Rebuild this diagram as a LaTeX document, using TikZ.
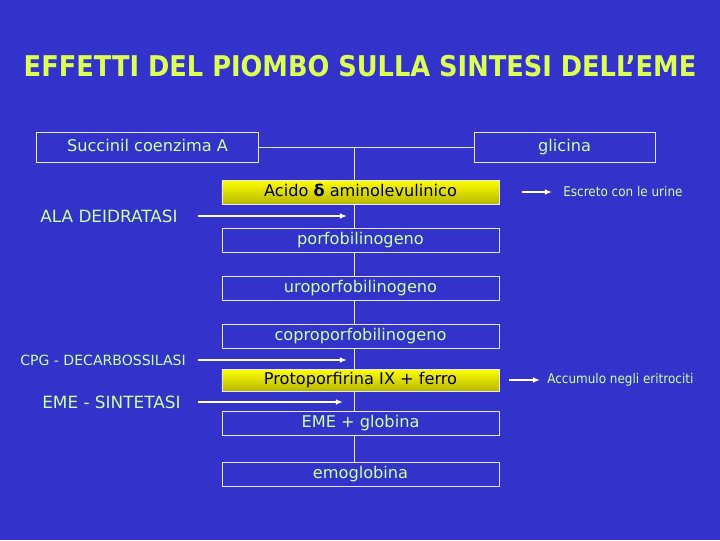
\documentclass[tikz,border=0pt]{standalone}
\usepackage{fontspec}
\setmainfont{DejaVu Sans}
\newfontfamily\titlefont{DejaVu Sans Condensed}
\usetikzlibrary{positioning}
\usetikzlibrary{calc}
\usetikzlibrary{arrows.meta}

\definecolor{slideblue}{HTML}{3333CC}
\definecolor{labelgreen}{HTML}{CCFF99}
\definecolor{titlegreen}{HTML}{DDFF55}
\definecolor{boxline}{HTML}{E6E6F0}
\definecolor{darknavy}{HTML}{000066}
\definecolor{arrowcream}{HTML}{FFFFDD}

\tikzset{
  stepbox/.style={draw=boxline, line width=0.5pt, fill=slideblue, text=labelgreen,
    minimum width=6.925cm, minimum height=0.6cm, inner sep=0pt,
    text height=1.55ex, text depth=0.45ex, font=\fontsize{11.5}{13}\selectfont},
  yellowbox/.style={stepbox, draw=boxline, top color=yellow, bottom color=yellow!72!black,
    text=darknavy},
  topbox/.style={stepbox, minimum height=0.75cm},
  enzyme/.style={text=labelgreen, anchor=west, inner sep=0pt, font=\fontsize{12}{14}\selectfont},
  note/.style={text=labelgreen, anchor=west, inner sep=0pt, font=\titlefont\fontsize{9.5}{11}\selectfont},
  trunk/.style={draw=boxline, line width=0.5pt},
  enzarrow/.style={draw=arrowcream, line width=1pt, -{Latex[length=5pt,width=4pt]}}
}

\begin{document}
\begin{tikzpicture}[x=0.025cm, y=-0.025cm]
  \fill[slideblue] (0,0) rectangle (720,540);
  \useasboundingbox (0,0) rectangle (720,540);

  % title
  \node[text=titlegreen, font=\titlefont\bfseries\fontsize{20.3}{24}\selectfont] (title) at (360,66)
    {EFFETTI DEL PIOMBO SULLA SINTESI DELL’EME};

  % substrates
  \node[topbox, minimum width=5.55cm] (succ) at (147.5,147.5) {Succinil coenzima A};
  \node[topbox, minimum width=4.525cm] (gli) at (564.5,147.5) {glicina};
  \coordinate (junc) at (354,147.5);

  % main chain
  \node[yellowbox] (ala) at (360.5,192) {Acido \textbf{δ} aminolevulinico};
  \node[stepbox] (pbg) at (360.5,240) {porfobilinogeno};
  \node[stepbox] (uro) at (360.5,288.5) {uroporfobilinogeno};
  \node[stepbox] (copro) at (360.5,336) {coproporfobilinogeno};
  \node[yellowbox, minimum height=0.55cm] (proto) at (360.5,380) {Protoporfirina IX + ferro};
  \node[stepbox] (eme) at (360.5,423.5) {EME + globina};
  \node[stepbox] (hb) at (360.5,474.5) {emoglobina};

  \draw[trunk] (succ.east) -- (gli.west);
  \draw[trunk] (junc) -- (junc |- ala.north);
  \draw[trunk] (junc |- ala.south) -- (junc |- pbg.north);
  \draw[trunk] (junc |- pbg.south) -- (junc |- uro.north);
  \draw[trunk] (junc |- uro.south) -- (junc |- copro.north);
  \draw[trunk] (junc |- copro.south) -- (junc |- proto.north);
  \draw[trunk] (junc |- proto.south) -- (junc |- eme.north);
  \draw[trunk] (junc |- eme.south) -- (junc |- hb.north);

  % enzymes
  \node[enzyme] (alad) at (40,216) {ALA DEIDRATASI};
  \node[enzyme, font=\fontsize{10}{12}\selectfont] (cpg) at (20,360) {CPG - DECARBOSSILASI};
  \node[enzyme] (hs) at (42,402) {EME - SINTETASI};
  \coordinate (aladend) at (347,216);
  \coordinate (cpgend) at (347,360);
  \coordinate (hsend) at (343,402);
  \draw[enzarrow] (198,216) -- (aladend);
  \draw[enzarrow] (198,360) -- (cpgend);
  \draw[enzarrow] (198,402) -- (hsend);

  % effects
  \node[note] (urine) at (563,192) {Escreto con le urine};
  \node[note] (accum) at (547,380) {Accumulo negli eritrociti};
  \draw[enzarrow] ($(ala.east)+(23,0)$) -- ($(urine.west)+(-11,0)$);
  \draw[enzarrow] ($(proto.east)+(10,0)$) -- ($(accum.west)+(-7,0)$);
\end{tikzpicture}
\end{document}
